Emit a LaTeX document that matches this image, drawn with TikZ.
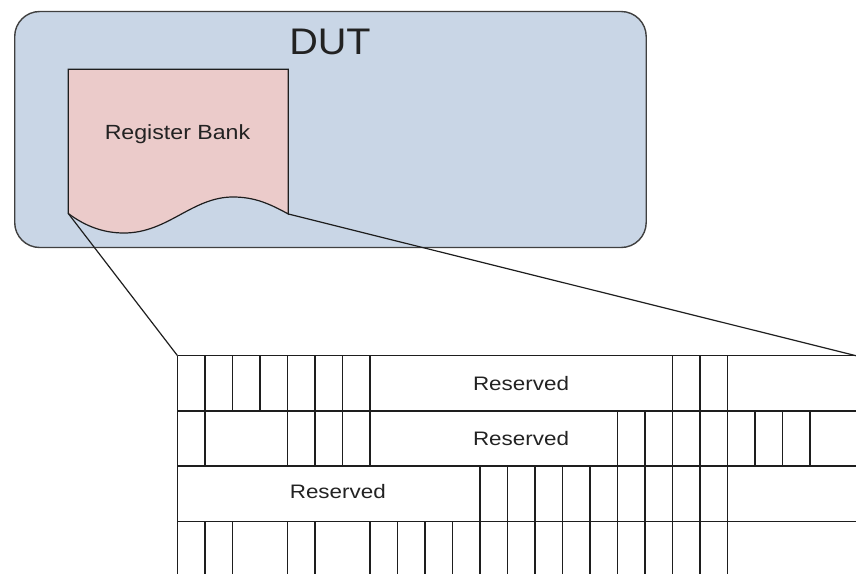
\documentclass[tikz,border=0pt]{standalone}
\usepackage{fontspec}
\setmainfont{Liberation Sans}
\definecolor{dutfill}{HTML}{C9D6E6}
\definecolor{rbfill}{HTML}{EBCBCA}
\definecolor{ln}{HTML}{1E1E1E}
\definecolor{txt}{HTML}{222222}
\tikzset{
  dutbox/.style={draw=ln!85, fill=dutfill, rounded corners=25pt, line width=1.4pt, inner sep=0pt},
  rbshape/.style={draw=ln, fill=rbfill, line width=1.2pt},
  conn/.style={draw=ln, line width=1.2pt},
  grid line/.style={draw=ln, line width=1.3pt},
  lbl/.style={text=txt, inner sep=0pt, anchor=base},
}
\newcommand{\wide}[2]{\scalebox{#1}[1]{#2}}
\begin{document}
\begin{tikzpicture}[x=1pt,y=-1pt]
\useasboundingbox (0,0) rectangle (856,573);
\begin{scope}
\clip (0,0) rectangle (856,573);
% DUT
\node[dutbox, minimum width=631.5pt, minimum height=236pt, anchor=north west] (dut) at (14,10.8) {};
\node[lbl, font=\fontsize{37}{37}\selectfont] (duttxt) at (330,54) {\wide{1.07}{DUT}};
% Register bank
\coordinate (rbL) at (68.3,213.5);
\coordinate (rbR) at (288.3,214);
\path[rbshape] (68.3,69.3) -- (288.3,69.3) -- (rbR)
  .. controls (270,204) and (255,197) .. (233,197)
  .. controls (192,197) and (168,233) .. (124,233)
  .. controls (103,233) and (85,226) .. (rbL) -- cycle;
\node[lbl, font=\fontsize{20.5}{20.5}\selectfont] (rbtxt) at (177.5,139) {\wide{1.13}{Register Bank}};
% table
\coordinate (tl) at (177.5,355.7);
\coordinate (tr) at (856,355.7);
\foreach \y in {355.7,410.9,466.1,521.3}
  \draw[grid line] (177.5,\y) -- (870,\y);
\foreach \i in {0,...,7,18,19,20}
  \draw[grid line] (177.5+27.5*\i,355.7) -- (177.5+27.5*\i,410.9);
\foreach \i in {0,1,4,5,6,7,16,17,...,23}
  \draw[grid line] (177.5+27.5*\i,410.9) -- (177.5+27.5*\i,466.1);
\foreach \i in {0,11,12,...,20}
  \draw[grid line] (177.5+27.5*\i,466.1) -- (177.5+27.5*\i,521.3);
\foreach \i in {0,1,2,4,5,7,8,...,20}
  \draw[grid line] (177.5+27.5*\i,521.3) -- (177.5+27.5*\i,580);
\node[lbl, font=\fontsize{19.5}{19.5}\selectfont] (res1) at (521,390.5) {\wide{1.15}{Reserved}};
\node[lbl, font=\fontsize{19.5}{19.5}\selectfont] (res2) at (521,445.7) {\wide{1.15}{Reserved}};
\node[lbl, font=\fontsize{19.5}{19.5}\selectfont] (res3) at (337.8,498.5) {\wide{1.15}{Reserved}};
% connectors
\draw[conn] (rbL) -- (tl);
\draw[conn] (rbR) -- (tr);
\end{scope}
\end{tikzpicture}
\end{document}
